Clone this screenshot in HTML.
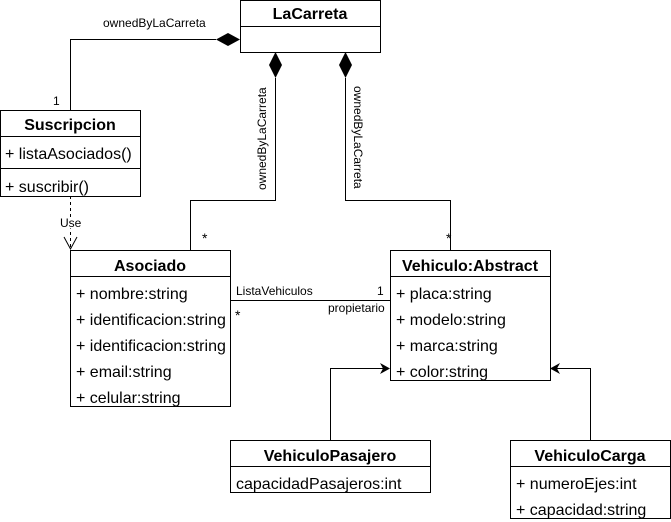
<!DOCTYPE html>
<html><head><meta charset="utf-8"><style>
html,body{margin:0;padding:0;background:#fff;}
svg{display:block;font-family:"Liberation Sans",Arial,sans-serif;}
</style></head><body>
<svg width="671" height="522" viewBox="0 0 671 522" xmlns="http://www.w3.org/2000/svg">
<g fill="none" stroke="#000" stroke-width="1">
<polyline points="70.5,110 70.5,39.5 216,39.5"/>
<polyline points="275.5,78 275.5,200.5 190.5,200.5 190.5,250"/>
<polyline points="345.5,78 345.5,200.5 450.5,200.5 450.5,250"/>
<line x1="70.5" y1="196" x2="70.5" y2="249" stroke-dasharray="3,3"/>
<polyline points="64,237 70.5,249 77,237"/>
<line x1="230" y1="300.5" x2="390" y2="300.5"/>
<polyline points="330.5,440 330.5,368.5 384,368.5"/>
<polyline points="590.5,440 590.5,368.5 556,368.5"/>
</g>
<g fill="#000">
<polygon points="216,39.5 228,33 240,39.5 228,46"/>
<polygon points="275.5,52 282,65 275.5,78 269,65"/>
<polygon points="345.5,52 352,65 345.5,78 339,65"/>
<polygon points="390,368.5 380,363 383,368.5 380,374"/>
<polygon points="550,368.5 560,363 557,368.5 560,374"/>
</g>
<g fill="#fff" stroke="#000" stroke-width="1">
<rect x="240.5" y="0.5" width="140" height="52"/>
<line x1="240.5" y1="26.5" x2="380.5" y2="26.5"/>
<rect x="0.5" y="110.5" width="140" height="86"/>
<line x1="0.5" y1="136.5" x2="140.5" y2="136.5"/>
<line x1="0.5" y1="168.5" x2="140.5" y2="168.5"/>
<rect x="70.5" y="250.5" width="160" height="156"/>
<line x1="70.5" y1="276.5" x2="230.5" y2="276.5"/>
<rect x="390.5" y="250.5" width="160" height="130"/>
<line x1="390.5" y1="276.5" x2="550.5" y2="276.5"/>
<rect x="230.5" y="440.5" width="200" height="52"/>
<line x1="230.5" y1="466.5" x2="430.5" y2="466.5"/>
<rect x="510.5" y="440.5" width="160" height="78"/>
<line x1="510.5" y1="466.5" x2="670.5" y2="466.5"/>
</g>
<g font-size="16" fill="#000">
<g font-weight="bold" text-anchor="middle">
<text x="310" y="19">LaCarreta</text>
<text x="70" y="130">Suscripcion</text>
<text x="470" y="271">Vehiculo:Abstract</text>
<text x="150" y="271">Asociado</text>
<text x="330" y="461">VehiculoPasajero</text>
<text x="590" y="461">VehiculoCarga</text>
</g>
<text x="5" y="159">+ listaAsociados()</text>
<text x="5" y="192">+ suscribir()</text>
<text x="76" y="299">+ nombre:string</text>
<text x="76" y="325">+ identificacion:string</text>
<text x="76" y="351">+ identificacion:string</text>
<text x="76" y="377">+ email:string</text>
<text x="76" y="403">+ celular:string</text>
<text x="396" y="299">+ placa:string</text>
<text x="396" y="325">+ modelo:string</text>
<text x="396" y="351">+ marca:string</text>
<text x="396" y="377">+ color:string</text>
<text x="236" y="489">capacidadPasajeros:int</text>
<text x="516" y="489">+ numeroEjes:int</text>
<text x="516" y="515">+ capacidad:string</text>
</g>
<g font-size="12" fill="#000">
<text x="103" y="27">ownedByLaCarreta</text>
<text x="53" y="105">1</text>
<text x="60" y="227" stroke="#fff" stroke-width="3" paint-order="stroke">Use</text>
<text x="202" y="243" font-size="14">*</text>
<text x="446" y="243" font-size="14">*</text>
<text x="236" y="295">ListaVehiculos</text>
<text x="377" y="295">1</text>
<text x="235" y="320" font-size="14">*</text>
<text x="328" y="312">propietario</text>
<text transform="translate(266,190) rotate(-90)">ownedByLaCarreta</text>
<text transform="translate(354,86) rotate(90)">ownedByLaCarreta</text>
</g>
</svg>
</body></html>
